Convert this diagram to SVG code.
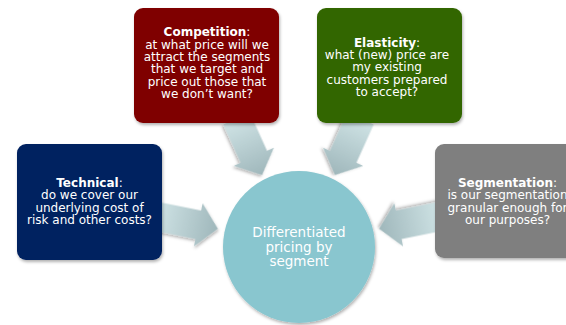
<svg xmlns="http://www.w3.org/2000/svg" width="566" height="325" viewBox="0 0 566 325">
  <style>
    .t { font-family: "DejaVu Sans", Verdana, sans-serif; font-size: 12px; fill: #ffffff; text-anchor: middle; }
    .b { font-weight: bold; }
    .c { font-family: "DejaVu Sans", Verdana, sans-serif; font-size: 13.5px; fill: #ffffff; text-anchor: middle; }
    .arrow { fill: url(#ag); filter: url(#sh); }
    .box { filter: url(#sh); }
  </style>
  <defs>
    <linearGradient id="ag" x1="0" y1="0" x2="1" y2="0">
      <stop offset="0" stop-color="#cfe3e5"/>
      <stop offset="1" stop-color="#9fb7bb"/>
    </linearGradient>
    <filter id="sh" x="-20%" y="-20%" width="140%" height="140%">
      <feDropShadow dx="1" dy="2" stdDeviation="1.5" flood-color="#000000" flood-opacity="0.3"/>
    </filter>
  </defs>
  <rect width="566" height="325" fill="#ffffff"/>
  <g id="connectors">
    <path class="arrow" transform="translate(162,217.5) rotate(11.4)" d="M-6,-14.5 L37,-14.5 L37,-22 L57,0 L37,22 L37,14.5 L-6,14.5 Z"/>
    <path class="arrow" transform="translate(239,124) rotate(65.7)" d="M-6,-14.5 L36,-14.5 L36,-22 L56,0 L36,22 L36,14.5 L-6,14.5 Z"/>
    <path class="arrow" transform="translate(358,124) rotate(114.3)" d="M-6,-14.5 L36,-14.5 L36,-22 L56,0 L36,22 L36,14.5 L-6,14.5 Z"/>
    <path class="arrow" transform="translate(435,217.5) rotate(168.6)" d="M-6,-14.5 L37,-14.5 L37,-22 L57,0 L37,22 L37,14.5 L-6,14.5 Z"/>
  </g>
  <g id="center">
    <circle class="box" cx="299" cy="247" r="76" fill="#89c6cf"/>
    <text class="c" x="299" y="237.3">Differentiated</text>
    <text class="c" x="299" y="251.8">pricing by</text>
    <text class="c" x="299" y="266.1">segment</text>
  </g>
  <g id="technical">
    <rect class="box" x="17" y="144" width="145" height="116" rx="9" fill="#002060"/>
    <text class="t" x="89.5" y="186.5"><tspan class="b">Technical</tspan>:</text>
    <text class="t" x="89.5" y="199">do we cover our</text>
    <text class="t" x="89.5" y="211.5">underlying cost of</text>
    <text class="t" x="89.5" y="223.5">risk and other costs?</text>
  </g>
  <g id="competition">
    <rect class="box" x="134" y="8" width="145" height="115" rx="9" fill="#7f0000"/>
    <text class="t" x="207" y="36"><tspan class="b">Competition</tspan>:</text>
    <text class="t" x="207" y="48.5">at what price will we</text>
    <text class="t" x="207" y="60.9">attract the segments</text>
    <text class="t" x="207" y="73.3">that we target and</text>
    <text class="t" x="207" y="85.8">price out those that</text>
    <text class="t" x="207" y="98.2">we don’t want?</text>
  </g>
  <g id="elasticity">
    <rect class="box" x="317" y="8" width="145" height="115" rx="9" fill="#336600"/>
    <text class="t" x="387" y="46.7"><tspan class="b">Elasticity</tspan>:</text>
    <text class="t" x="387" y="59">what (new) price are</text>
    <text class="t" x="387" y="71.3">my existing</text>
    <text class="t" x="387" y="83.6">customers prepared</text>
    <text class="t" x="387" y="95.9">to accept?</text>
  </g>
  <g id="segmentation">
    <rect class="box" x="435" y="144" width="145" height="114" rx="9" fill="#7f7f7f"/>
    <text class="t" x="507.5" y="186.5"><tspan class="b">Segmentation</tspan>:</text>
    <text class="t" x="507.5" y="199">is our segmentation</text>
    <text class="t" x="507.5" y="211.5">granular enough for</text>
    <text class="t" x="507.5" y="223.5">our purposes?</text>
  </g>
</svg>
